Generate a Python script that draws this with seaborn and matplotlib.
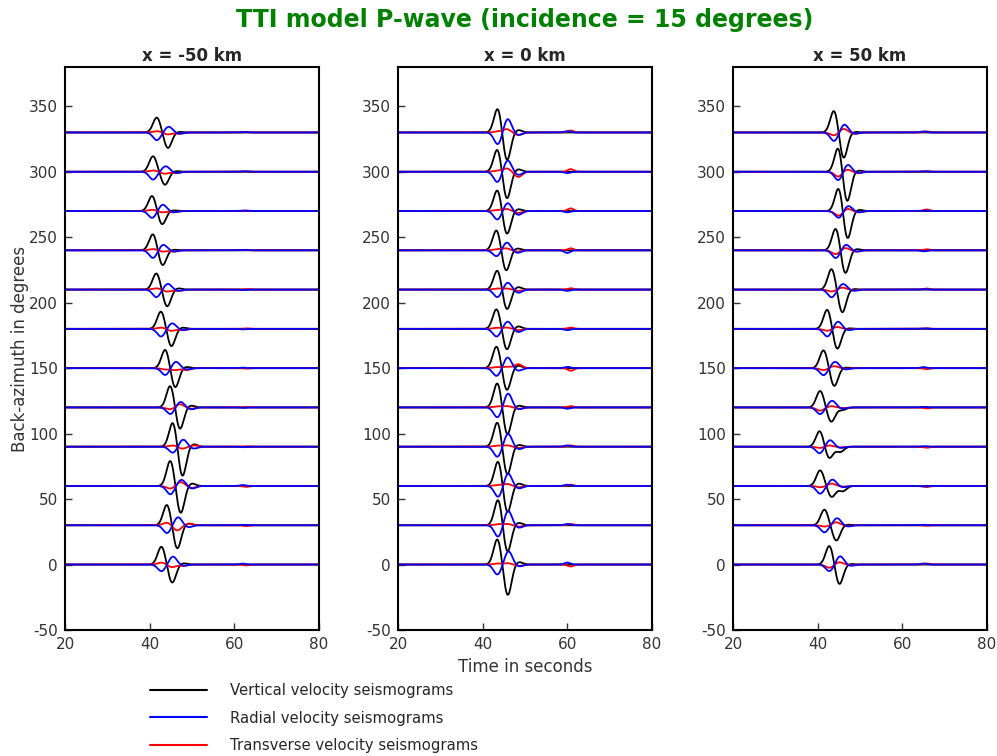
import numpy as np
import pandas as pd
import matplotlib
matplotlib.use("Agg")
import matplotlib.pyplot as plt
from matplotlib.lines import Line2D
import seaborn as sns

# ---------------- data ----------------
BAZ = [0, 30, 60, 90, 120, 150, 180, 210, 240, 270, 300, 330]
PANELS = ["x = -50 km", "x = 0 km", "x = 50 km"]

# vertical: peak time / amplitude, trough time / amplitude, late small lobe
VT1 = [[42.8, 44.1, 44.9, 45.5, 44.9, 43.7, 42.7, 41.6, 40.8, 40.6, 40.8, 41.7],
       [43.5, 43.7, 43.7, 43.5, 43.5, 43.3, 43.3, 43.5, 43.3, 43.5, 43.5, 43.6],
       [42.8, 41.6, 40.6, 40.5, 40.6, 41.4, 42.3, 43.3, 44.3, 45.0, 44.9, 43.9]]
VA1 = [[13.8, 15.9, 19.6, 19.0, 17.0, 14.4, 13.5, 12.5, 12.7, 11.8, 11.9, 11.5],
       [19.7, 20.3, 19.6, 19.0, 19.0, 16.8, 15.3, 15.0, 15.8, 16.4, 17.5, 19.0],
       [14.6, 12.0, 12.0, 12.2, 12.7, 13.8, 15.0, 15.9, 17.1, 18.4, 19.3, 17.2]]
VT2 = [[45.3, 46.5, 47.3, 47.7, 47.1, 46.0, 45.1, 44.1, 43.0, 42.9, 43.6, 44.3],
       [45.9, 45.8, 45.8, 45.8, 45.8, 45.7, 45.7, 45.7, 45.5, 45.7, 45.7, 45.7],
       [45.1, 44.4, 43.3, 42.7, 43.2, 43.9, 44.6, 45.8, 46.5, 47.0, 46.9, 46.1]]
VA2 = [[-14.0, -18.0, -21.0, -23.0, -17.0, -15.0, -13.5, -13.0, -11.8, -10.4, -10.0, -12.0],
       [-23.7, -21.0, -21.0, -21.6, -21.0, -17.0, -16.0, -15.5, -16.0, -18.0, -21.0, -22.0],
       [-15.3, -11.7, -8.4, -9.0, -11.0, -13.8, -15.6, -17.6, -18.0, -22.0, -23.6, -20.0]]
VA3 = [[1.0, 1.5, 2.0, 2.0, 1.5, 1.0, 1.0, 1.0, 0.5, 0.5, 0.5, 0.5],
       [2.0, 2.0, 2.0, 1.5, 1.5, 2.0, 2.0, 2.0, 1.5, 1.5, 2.0, 2.0],
       [0.5, 0.5, -4.0, -4.0, -2.0, 0.5, 0.5, 0.5, 1.0, 1.0, 1.0, 0.5]]

# radial: first (negative) lobe, second (positive) lobe, late lobe
RA1 = [[-5.1, -6.0, -6.4, -4.7, -5.1, -5.3, -5.9, -5.8, -5.9, -5.3, -6.0, -5.9],
       [-7.7, -9.0, -8.5, -7.8, -7.7, -6.0, -5.9, -5.9, -4.6, -6.6, -8.0, -9.2],
       [-5.1, -5.4, -5.9, -5.1, -5.1, -5.4, -5.9, -5.9, -6.0, -5.3, -6.6, -6.6]]
RA2 = [[6.1, 6.2, 4.8, 5.5, 4.3, 4.9, 4.3, 4.4, 4.3, 4.9, 4.2, 4.4],
       [10.2, 11.3, 9.7, 10.0, 10.7, 8.2, 5.6, 5.4, 6.0, 6.2, 8.8, 10.5],
       [6.4, 5.4, 4.9, 5.1, 5.1, 4.9, 5.6, 4.3, 4.3, 4.0, 5.5, 6.1]]
RA3 = [[-1.0, -1.5, -2.0, -1.5, -1.5, -1.0, -1.0, -1.0, -1.0, -1.0, -1.0, -1.0],
       [-1.5, -2.0, -2.0, -2.0, -1.5, -2.0, -2.5, -2.5, -2.0, -3.0, -2.5, -2.0],
       [-1.0, -1.0, -1.0, -1.0, -1.0, -1.0, -1.0, -1.0, -1.0, -1.0, -1.0, -1.0]]

# transverse lobes
TA1 = [[1.5, 2.0, -2.0, 1.0, -1.5, -1.0, 1.0, 1.0, 1.0, 1.0, 1.0, 1.0],
       [0.8, 0.8, 0.8, 0.8, 0.8, 0.8, 0.8, 0.8, 0.8, 0.8, 0.8, 0.8],
       [-2.5, -1.0, -1.0, -1.0, -2.5, -1.5, -1.5, -1.5, -3.0, -3.6, -3.8, -2.3]]
TA2 = [[-2.0, -4.0, 3.0, -1.5, 2.5, -1.5, -1.5, -1.5, -1.0, -1.0, -1.5, -1.5],
       [1.0, 1.0, 1.5, 1.0, 1.0, 1.0, 1.0, 0.8, 1.5, 1.5, 2.5, 2.5],
       [1.8, 2.3, 1.8, 1.0, 1.0, 1.5, 1.5, 1.5, 1.8, 1.8, 1.8, 2.8]]
TA3 = [[-1.0, 1.0, -1.5, 1.0, -1.0, -1.5, -1.0, -1.0, -1.0, -1.0, -1.0, -1.0],
       [-1.0, -1.0, -1.0, -1.0, -1.0, 3.0, -1.0, -1.0, -1.0, -1.5, -4.0, -2.0],
       [-0.5, -0.5, -0.5, -0.5, -0.5, -0.5, -0.5, -0.5, -1.0, -1.0, -1.0, -1.0]]

# late coda arrival
CODA_T = [62.0, 60.0, 65.0]
RC = [[0.7, 0.4, 0.7, -0.4, -0.4, 0.4, -0.4, -0.4, 0.4, 0.4, 0.4, 0.4],
      [1.5, 1.0, 1.0, 1.0, -1.0, 1.0, -1.0, -1.0, -2.0, -1.0, -1.0, 1.0],
      [0.8, 0.4, -0.4, 0.4, 0.4, 0.8, 0.4, 0.4, -0.8, 0.4, 0.4, 0.8]]
TC = [[-0.7, -0.7, -0.7, 0.4, 0.4, -0.4, 0.4, 0.4, 0.4, 0.4, 0.4, 0.4],
      [-1.5, 1.0, 1.0, 1.0, 1.0, -2.0, 1.0, 1.0, 1.5, 2.0, 2.0, 1.5],
      [0.8, -0.4, -0.8, -0.8, -0.8, -0.8, 0.4, 0.8, 0.8, 1.2, 0.4, 0.8]]

XTICKS = [20, 40, 60, 80]
YTICKS = [-50, 0, 50, 100, 150, 200, 250, 300, 350]
COLORS = {"Vertical": "black", "Transverse": "red", "Radial": "blue"}
LEGEND_LABELS = ["Vertical velocity seismograms",
                 "Radial velocity seismograms",
                 "Transverse velocity seismograms"]

# ---------------- build traces ----------------
t = np.arange(20.0, 80.0, 0.05)
SIG = 0.9


def lobe(tc, a, s=SIG):
    return a * np.exp(-0.5 * ((t - tc) / s) ** 2)


def panel_frame(p):
    rows = []
    for i, b in enumerate(BAZ):
        t1, t2 = VT1[p][i], VT2[p][i]
        v = lobe(t1, VA1[p][i]) + lobe(t2, VA2[p][i]) + lobe(t2 + 2.6, VA3[p][i])
        r = (lobe(t1, RA1[p][i]) + lobe(t2 + 0.2, RA2[p][i]) + lobe(t2 + 2.7, RA3[p][i])
             + lobe(CODA_T[p], RC[p][i], 0.7))
        tr = (lobe(t1, TA1[p][i]) + lobe(t2, TA2[p][i]) + lobe(t2 + 2.7, TA3[p][i])
              + lobe(CODA_T[p] + 0.8, TC[p][i], 0.7))
        for comp, sig in (("Vertical", v), ("Transverse", tr), ("Radial", r)):
            rows.append(pd.DataFrame({"t": t, "y": b + sig, "comp": comp, "baz": b}))
    return pd.concat(rows, ignore_index=True)


# ---------------- figure ----------------
sns.set_theme(style="white")
plt.rcParams["font.family"] = ["DejaVu Sans"]
plt.rcParams["axes.unicode_minus"] = False

fig = plt.figure(figsize=(9.97, 7.56), dpi=100)
lefts = [65 / 997, 398 / 997, 733 / 997]
bottom = 1 - 630 / 756
height = (630 - 67) / 756
width = 254 / 997

for p, name in enumerate(PANELS):
    ax = fig.add_axes([lefts[p], bottom, width, height])
    df = panel_frame(p)
    sns.lineplot(data=df, x="t", y="y", hue="comp", units="baz", estimator=None,
                 hue_order=["Vertical", "Transverse", "Radial"], palette=COLORS,
                 linewidth=1.3, legend=False, sort=False, ax=ax)
    ax.set_xlim(20, 80)
    ax.set_ylim(-50, 380)
    ax.set_xticks(XTICKS)
    ax.set_yticks(YTICKS)
    ax.tick_params(direction="in", length=5, width=1, labelsize=11,
                   labelcolor="#333333", color="#333333",
                   left=True, bottom=True, right=False, top=False, pad=5)
    for s in ax.spines.values():
        s.set_color("black")
        s.set_linewidth(1.5)
    ax.set_title(name, fontweight="bold", fontsize=12, pad=4)
    ax.set_xlabel("Time in seconds" if p == 1 else "", fontsize=12, color="#333333")
    ax.set_ylabel("Back-azimuth in degrees" if p == 0 else "", fontsize=12,
                  color="#333333", labelpad=0)

fig.text(525 / 997, 1 - 20 / 756, "TTI model P-wave (incidence = 15 degrees)",
         color="green", fontweight="bold", fontsize=17, ha="center", va="center")

handles = [Line2D([], [], color=c, linewidth=1.5) for c in ("black", "blue", "red")]
fig.legend(handles, LEGEND_LABELS, loc="upper left",
           bbox_to_anchor=(150 / 997, 1 - 683 / 756), frameon=False,
           fontsize=10.75, handlelength=3.8, handletextpad=1.55, labelspacing=0.85,
           borderpad=0, borderaxespad=0)

fig.savefig("out.png", dpi=100)
